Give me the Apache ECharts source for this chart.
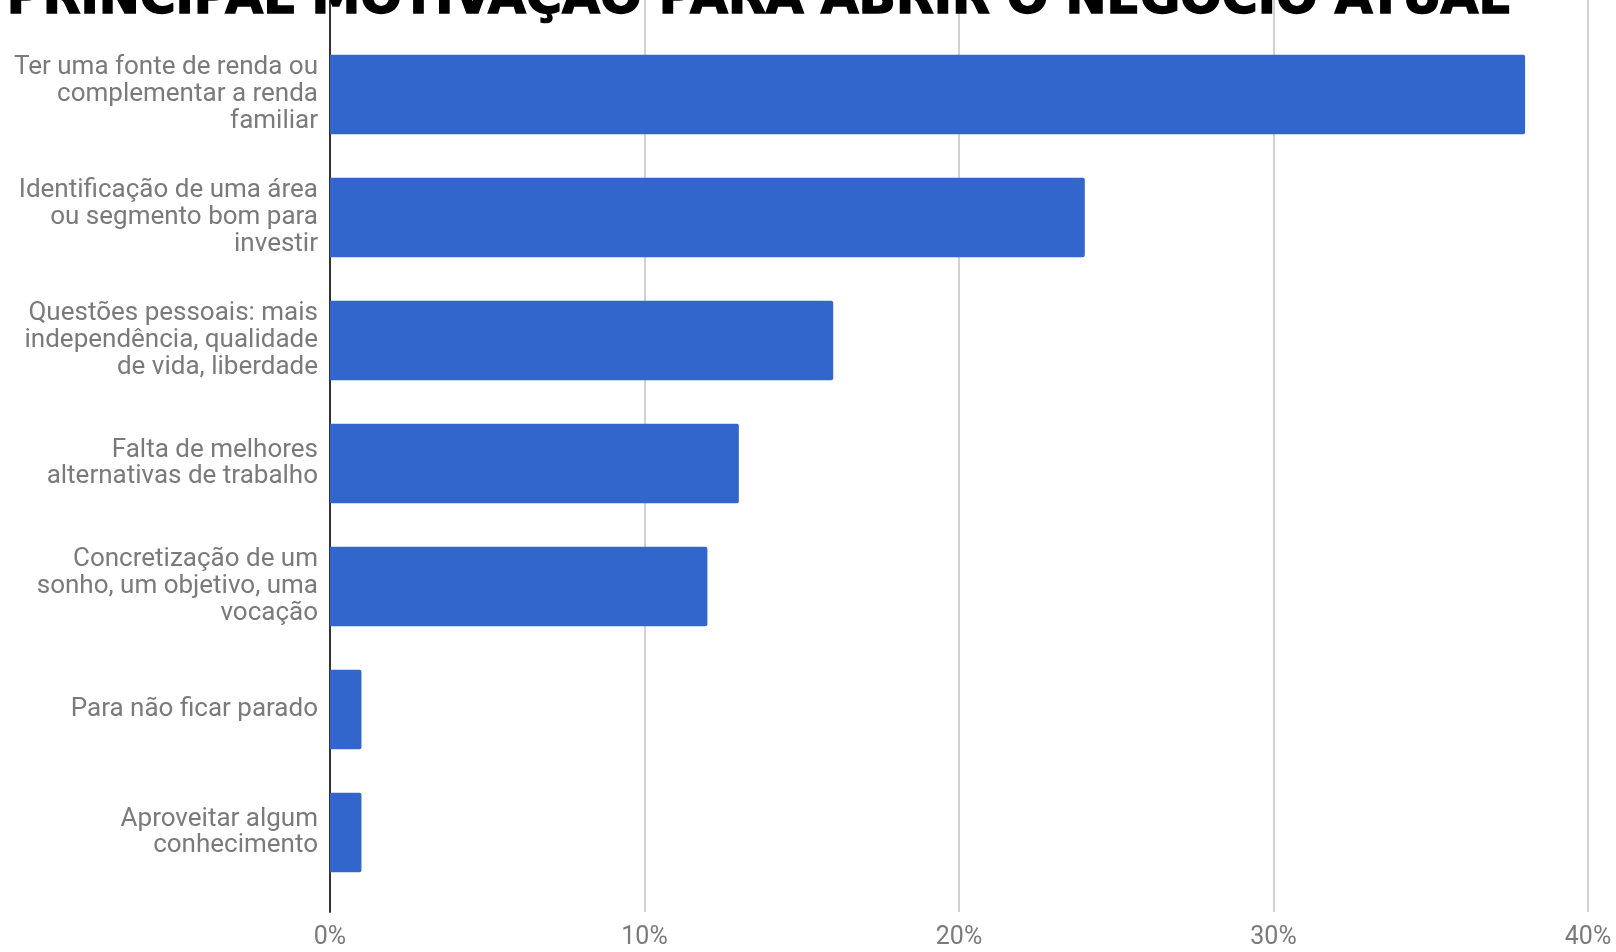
<!DOCTYPE html>
<html>
<head>
<meta charset="utf-8">
<title>Principal motivação para abrir o negócio atual</title>
<script src="https://cdn.jsdelivr.net/npm/echarts@6/dist/echarts.min.js"></script>
<style>
  html, body { margin: 0; padding: 0; background: #ffffff; }
  #chart { width: 1616px; height: 952px; }
</style>
</head>
<body>
<div id="chart"></div>
<script>
// Motivações (rótulos já quebrados em linhas)
const categories = [
  'Ter uma fonte de renda ou\ncomplementar a renda\nfamiliar',
  'Identificação de uma área\nou segmento bom para\ninvestir',
  'Questões pessoais: mais\nindependência, qualidade\nde vida, liberdade',
  'Falta de melhores\nalternativas de trabalho',
  'Concretização de um\nsonho, um objetivo, uma\nvocação',
  'Para não ficar parado',
  'Aproveitar algum\nconhecimento'
];
// Percentual de respondentes
const values = [38, 24, 16, 13, 12, 1, 1];
const xTicks = [0, 10, 20, 30, 40];
const titleText = 'PRINCIPAL MOTIVAÇÃO PARA ABRIR O NEGÓCIO ATUAL';

const chart = echarts.init(document.getElementById('chart'), null, { renderer: 'canvas' });

const labelColor = '#7a7a7a';
const labelFont = 'Roboto';

chart.setOption({
  animation: false,
  backgroundColor: '#ffffff',
  grid: [
    // frame with gridlines and percentage labels
    { left: 330, right: 28, top: 0, bottom: 40, containLabel: false },
    // bars
    { left: 330, right: 28, top: 33, bottom: 58, containLabel: false }
  ],
  xAxis: [
    {
      gridIndex: 0,
      type: 'value',
      min: xTicks[0],
      max: xTicks[xTicks.length - 1],
      interval: 10,
      axisLine: { show: false },
      axisTick: { show: false },
      splitLine: { show: true, lineStyle: { color: '#d2d2d2', width: 2 } },
      axisLabel: {
        color: labelColor, fontFamily: labelFont, fontSize: 25, margin: 13,
        formatter: '{value}%'
      }
    },
    {
      gridIndex: 1,
      type: 'value',
      min: xTicks[0],
      max: xTicks[xTicks.length - 1],
      show: false
    }
  ],
  yAxis: [
    {
      gridIndex: 0,
      type: 'value',
      min: 0, max: 1,
      axisLine: { show: true, onZero: false, lineStyle: { color: '#333333', width: 2 } },
      axisTick: { show: false },
      axisLabel: { show: false },
      splitLine: { show: false }
    },
    {
      gridIndex: 1,
      type: 'category',
      inverse: true,
      data: categories,
      axisLine: { show: false },
      axisTick: { show: false },
      axisLabel: {
        color: labelColor, fontFamily: labelFont, fontSize: 26,
        lineHeight: 26.7, margin: 12, align: 'right'
      }
    }
  ],
  series: [
    {
      type: 'bar',
      xAxisIndex: 1,
      yAxisIndex: 1,
      data: values,
      barWidth: '64.5%',
      itemStyle: { color: '#3366cc', borderRadius: [0, 2, 2, 0] },
      z: 3
    }
  ],
  graphic: [
    {
      type: 'text',
      left: 6,
      top: -25,
      z: 100,
      style: {
        text: titleText,
        fill: '#000000',
        font: 'bold 49px "DejaVu Sans"',
        stroke: '#000000',
        lineWidth: 1.5
      }
    }
  ]
});
</script>
</body>
</html>
